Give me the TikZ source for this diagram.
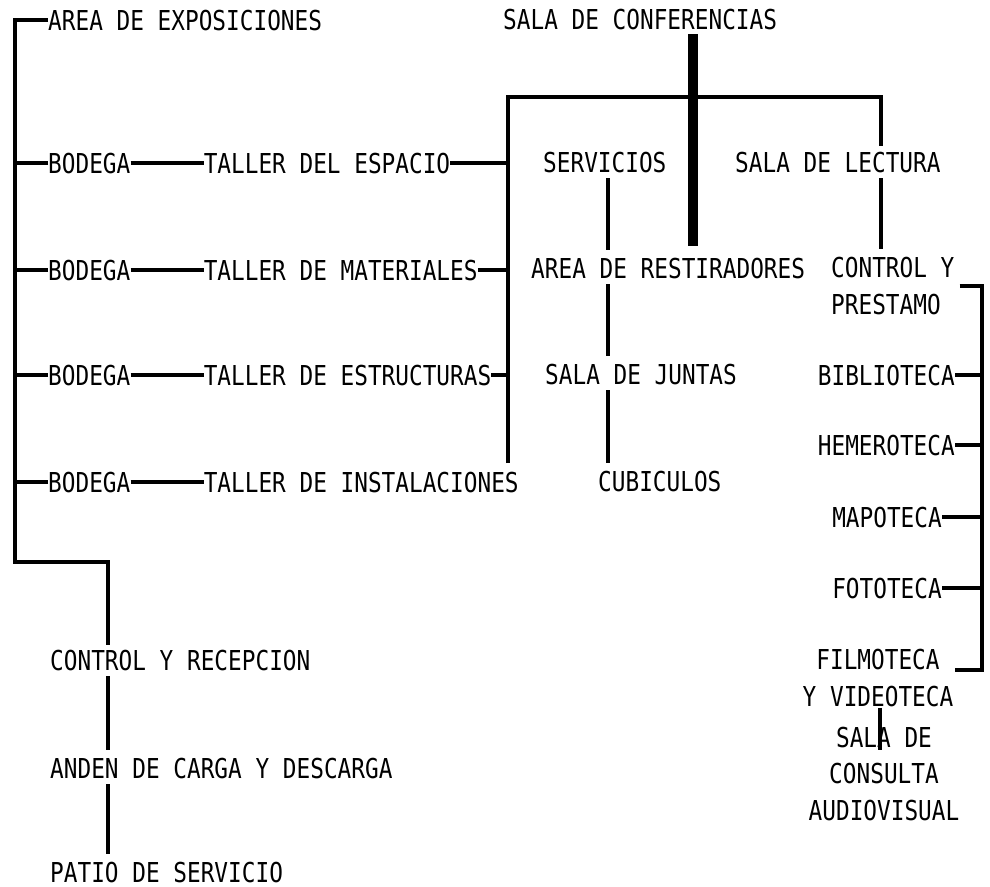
\documentclass[tikz,border=0pt]{standalone}
\usepackage{fontspec}
\usepackage{tikz}
\usetikzlibrary{positioning}
\newfontfamily\lettfont[FakeStretch=0.83]{DejaVu Sans Mono}
\newcommand{\lett}{\lettfont\fontsize{27.4}{36.5}\selectfont}

\begin{document}
\begin{tikzpicture}[x=1pt, y=-1pt, main/.style = {inner sep=0pt, anchor=west, font=\lett, text height=20pt, text depth=0pt}, multi/.style = {inner sep=0pt, font=\lett}, link/.style = {line width=3.8pt}, vlink/.style = {link, shorten <=6pt, shorten >=8pt}, heavy/.style = {line width=10pt, shorten <=5pt, shorten >=12pt}]
	\useasboundingbox (0,0) rectangle (990,886);
	\node[main] (expo) at (48,20) {AREA DE EXPOSICIONES};
	\node[main] (confer) at (503,19) {SALA DE CONFERENCIAS};
	\node[main] (bod1) at (48,163) {BODEGA};
	\node[main] (bod2) at (48,270) {BODEGA};
	\node[main] (bod3) at (48,375) {BODEGA};
	\node[main] (bod4) at (48,482) {BODEGA};
	\node[main] (tal1) [right=73pt of bod1] {TALLER DEL ESPACIO};
	\node[main] (tal2) [right=73pt of bod2] {TALLER DE MATERIALES};
	\node[main] (tal3) [right=73pt of bod3] {TALLER DE ESTRUCTURAS};
	\node[main] (tal4) [right=73pt of bod4] {TALLER DE INSTALACIONES};
	\node[main] (serv) at (543,162) {SERVICIOS};
	\node[main] (lect) at (735,162) {SALA DE LECTURA};
	\node[main] (restir) at (531,268) {AREA DE RESTIRADORES};
	\node[main] (juntas) at (545,374) {SALA DE JUNTAS};
	\node[main] (cubic) at (598,481) {CUBICULOS};
	\node[multi, anchor=west, align=left] (ctrl) at (831,286) {CONTROL Y\\PRESTAMO};
	\node[main, anchor=east] (biblio) at (955,375) {BIBLIOTECA};
	\node[main, anchor=east] (hemero) at (955,445) {HEMEROTECA};
	\node[main, anchor=east] (mapo) at (942,517) {MAPOTECA};
	\node[main, anchor=east] (foto) at (942,588) {FOTOTECA};
	\node[multi, align=center] (film) at (878,678) {FILMOTECA\\Y VIDEOTECA};
	\node[multi, align=center] (audio) at (884,774) {SALA DE\\CONSULTA\\AUDIOVISUAL};
	\node[main] (recep) at (50,660) {CONTROL Y RECEPCION};
	\node[main] (anden) at (50,768) {ANDEN DE CARGA Y DESCARGA};
	\node[main] (patio) at (50,872) {PATIO DE SERVICIO};
	\coordinate (lbus) at (15,20);
	\coordinate (lfoot) at (108,562);
	\coordinate (tbusB) at (508,463);
	\coordinate (tbus) at (508,97);
	\coordinate (tbusR) at (881,97);
	\coordinate (bar) at (693,0);
	\coordinate (svc) at (608,0);
	\coordinate (rbus) at (982,287);
	\coordinate (rbusB) at (982,670);
	\coordinate (filmtip) at (955,670);
	\coordinate (avtip) at (880,750);
	\draw[line width=4.5pt, shorten >=5pt] (expo.west) -- (expo.west -| lbus) -- (lbus |- lfoot) -- (lfoot) -- (lfoot |- recep.north);
	\foreach \i in {1,...,4} \draw[link] (bod\i.west) -- (bod\i.west -| lbus);
	\foreach \i in {1,...,4} \draw[link] (bod\i) -- (tal\i);
	\foreach \i in {1,2,3} \draw[link] (tal\i.east) -- (tal\i.east -| tbus);
	\draw[link, shorten >=6pt] (tbusB) -- (tbus) -- (tbusR) -- (tbusR |- lect.north);
	\draw[vlink] (tbusR |- lect.south) -- (tbusR |- ctrl.north);
	\draw[heavy] (bar |- confer.south) -- (bar |- restir.north);
	\draw[vlink] (svc |- serv.south) -- (svc |- restir.north);
	\draw[vlink] (svc |- restir.south) -- (svc |- juntas.north);
	\draw[vlink] (svc |- juntas.south) -- (svc |- cubic.north);
	\draw[link] ([xshift=5pt]ctrl.east) -- (ctrl.east -| rbus) -- (rbusB) -- (filmtip);
	\foreach \n in {biblio,hemero,mapo,foto} \draw[link] (\n.east) -- (\n.east -| rbus);
	\draw[link, shorten <=1pt] (film.south -| avtip) -- (avtip);
	\draw[vlink] (lfoot |- recep.south) -- (lfoot |- anden.north);
	\draw[vlink] (lfoot |- anden.south) -- (lfoot |- patio.north);
\end{tikzpicture}
\end{document}
